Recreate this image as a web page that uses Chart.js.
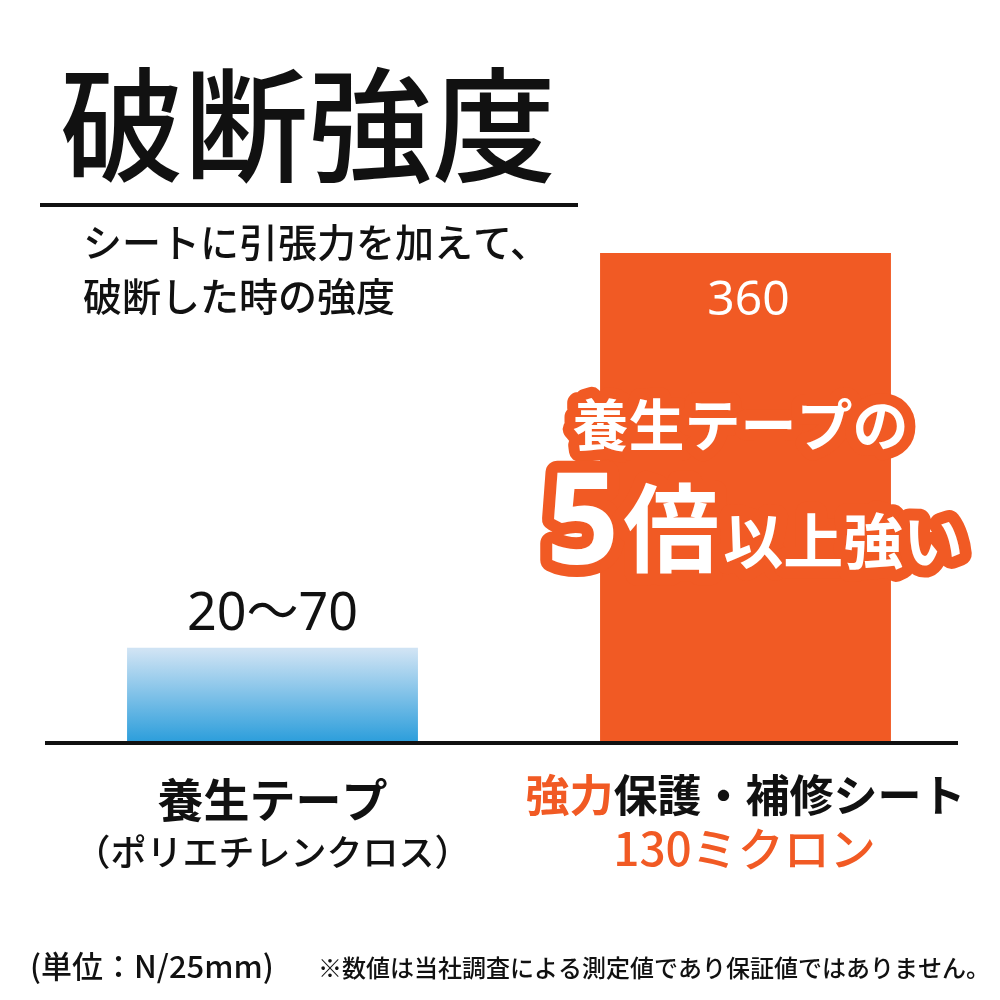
<!DOCTYPE html>
<html>
<head>
<meta charset="utf-8">
<script src="https://cdn.jsdelivr.net/npm/chart.js@4.4.0/dist/chart.umd.min.js"></script>
<style>
  html, body { margin: 0; padding: 0; background: #fff; }
  #wrap { width: 1000px; height: 1000px; position: relative; }
</style>
</head>
<body>
<div id="wrap"><canvas id="barChart"></canvas></div>
<script>
// data
var categories = ['養生テープ', '強力保護・補修シート']
var subLabels = ['（ポリエチレンクロス）', '130ミクロン']
var values = [70, 360]
var valueLabels = ['20～70', '360']

var ORANGE = '#f15a24'
var JP = '"Noto Sans CJK JP", "Noto Sans", sans-serif'

var textPlugin = {
    id: 'texts',
    afterDraw: function (chart) {
        var ctx = chart.ctx
        var x = chart.scales.x
        var y = chart.scales.y
        var base = y.getPixelForValue(0)
        ctx.save()

        // title
        ctx.fillStyle = '#111'
        ctx.textBaseline = 'alphabetic'
        ctx.textAlign = 'left'
        ctx.font = '500 124px ' + JP
        ctx.fillText('破断強度', 60, 172)
        ctx.fillRect(40, 203, 538, 4)

        ctx.font = '500 39px ' + JP
        ctx.fillText('シートに引張力を加えて、', 83, 257)
        ctx.fillText('破断した時の強度', 83, 311)

        // baseline
        ctx.fillRect(45, base - 2, 913, 4)

        // value labels
        var meta = chart.getDatasetMeta(0)
        var b0 = meta.data[0], b1 = meta.data[1]
        ctx.textAlign = 'center'
        ctx.font = '52px "Noto Sans", ' + JP
        ctx.fillStyle = '#111'
        ctx.fillText(valueLabels[0], b0.x, b0.y - 18)
        ctx.fillStyle = '#fff'
        ctx.font = '48px "Noto Sans", ' + JP
        ctx.fillText(valueLabels[1], b1.x + 3, b1.y + 62)

        // callout
        ctx.lineJoin = 'round'
        ctx.lineWidth = 22
        ctx.strokeStyle = ORANGE
        ctx.font = 'bold 56px ' + JP
        ctx.strokeText('養生テープの', b1.x - 5, 446)
        ctx.fillText('養生テープの', b1.x - 5, 446)

        ctx.textAlign = 'left'
        var parts = [['5', 'bold 128px "Noto Sans", ' + JP], ['倍', 'bold 96px ' + JP], ['以上強い', 'bold 60px ' + JP]]
        var x0 = 546, by = 564
        var xs = x0
        parts.forEach(function (p) {
            ctx.font = p[1]
            ctx.lineWidth = 24
            ctx.strokeText(p[0], xs, by)
            xs += ctx.measureText(p[0]).width + 4
        })
        xs = x0
        parts.forEach(function (p) {
            ctx.font = p[1]
            ctx.fillText(p[0], xs, by)
            xs += ctx.measureText(p[0]).width + 4
        })

        // category labels
        ctx.textAlign = 'center'
        ctx.fillStyle = '#111'
        ctx.font = 'bold 46px ' + JP
        ctx.fillText(categories[0], x.getPixelForValue(0), 817)
        ctx.font = '500 36px ' + JP
        ctx.fillText(subLabels[0], x.getPixelForValue(0), 866)

        ctx.font = 'bold 44px ' + JP
        var cx = x.getPixelForValue(1)
        var full = categories[1]
        var w = ctx.measureText(full).width
        var lead = full.slice(0, 2)
        ctx.textAlign = 'left'
        ctx.fillStyle = ORANGE
        ctx.fillText(lead, cx - w / 2, 812)
        ctx.fillStyle = '#111'
        ctx.fillText(full.slice(2), cx - w / 2 + ctx.measureText(lead).width, 812)
        ctx.textAlign = 'center'
        ctx.fillStyle = ORANGE
        ctx.font = '500 46px ' + JP
        ctx.fillText(subLabels[1], cx - 1, 866)

        // footer
        ctx.fillStyle = '#111'
        ctx.textAlign = 'left'
        ctx.font = '500 31px ' + JP
        ctx.fillText('(単位：N/25mm)', 30, 978)
        ctx.font = '500 24px ' + JP
        ctx.fillText('※数値は当社調査による測定値であり保証値ではありません。', 318, 977)
        ctx.restore()
    }
}

var ctx = document.getElementById('barChart').getContext('2d')
var blue = ctx.createLinearGradient(0, 650, 0, 743)
blue.addColorStop(0, '#cfe3f4')
blue.addColorStop(1, '#2a9ddb')

new Chart(ctx, {
    type: 'bar',
    data: {
        labels: categories,
        datasets: [{
            data: values,
            backgroundColor: [blue, ORANGE],
            borderWidth: 0,
            barPercentage: 0.615,
            categoryPercentage: 1
        }]
    },
    options: {
        responsive: true,
        maintainAspectRatio: false,
        animation: false,
        layout: { padding: { top: 253, bottom: 257, left: 36, right: 18 } },
        plugins: { legend: { display: false }, tooltip: { enabled: false } },
        scales: {
            x: { display: false },
            y: { display: false, min: 0, max: 360 }
        }
    },
    plugins: [textPlugin]
})
</script>
</body>
</html>
